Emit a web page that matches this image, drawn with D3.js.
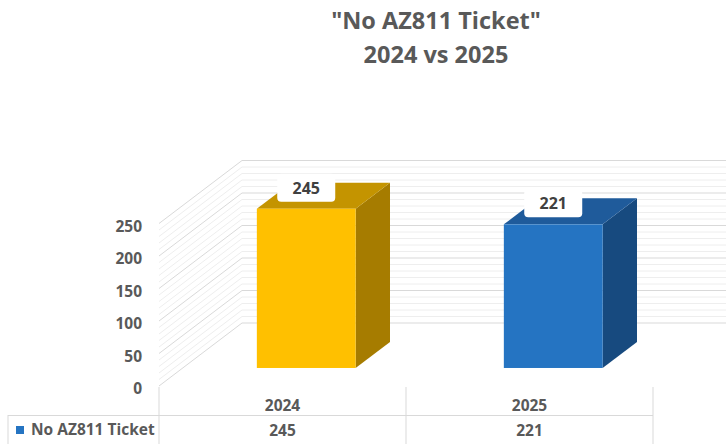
<!DOCTYPE html>
<html>
<head>
<meta charset="utf-8">
<script src="https://cdn.jsdelivr.net/npm/d3@7"></script>
<style>
  body { margin: 0; background: #fff; }
  svg text { font-family: "Open Sans", sans-serif; font-weight: bold; }
</style>
</head>
<body>
<svg width="726" height="444"></svg>
<script>
const categories = ['2024', '2025'];
const values = [245, 221];
const seriesName = 'No AZ811 Ticket';
const yTicks = [0, 50, 100, 150, 200, 250];
const minorTicks = d3.range(0, 251, 10);
const titleLines = ['"No AZ811 Ticket"', '2024 vs 2025'];

const frontColors = ['#FFC000', '#2574C2'];
const topColors = ['#C49400', '#1F5B9B'];
const sideColors = ['#A67C00', '#174A7F'];

const W = 726, H = 444;
const FLOOR_Y = 386;      // front floor line
const DEPTH_X = 83, DEPTH_Y = -63;

const svg = d3.select('svg');

const x = d3.scaleBand().domain(categories).range([159, 653]);
const y = d3.scaleLinear().domain([0, 250]).range([0, 162.5]);

// project point: horizontal pos, value height, depth fraction 0..1
function p(xv, v, d) {
  return [xv + d * DEPTH_X, FLOOR_Y - y(v) + d * DEPTH_Y];
}

// title
svg.selectAll('.title')
  .data(titleLines)
  .enter()
  .append('text')
  .attr('x', 436)
  .attr('y', (d, i) => 29 + i * 34)
  .attr('text-anchor', 'middle')
  .attr('font-size', 23.5)
  .attr('fill', '#595959')
  .text(d => d);

// walls: side wall + back wall gridlines
const walls = svg.append('g');
walls.selectAll('.side')
  .data(minorTicks)
  .enter()
  .append('line')
  .attr('x1', d => p(159, d, 0)[0])
  .attr('y1', d => p(159, d, 0)[1])
  .attr('x2', d => p(159, d, 1)[0])
  .attr('y2', d => p(159, d, 1)[1])
  .attr('stroke', d => d % 50 === 0 ? '#d9d9d9' : '#eeeeee')
  .attr('stroke-width', 1);

walls.selectAll('.back')
  .data(minorTicks)
  .enter()
  .append('line')
  .attr('x1', d => p(159, d, 1)[0])
  .attr('y1', d => p(159, d, 1)[1])
  .attr('x2', W)
  .attr('y2', d => p(159, d, 1)[1])
  .attr('stroke', d => d % 50 === 0 ? '#d9d9d9' : '#eeeeee')
  .attr('stroke-width', 1);

// y tick labels
svg.selectAll('.ytick')
  .data(yTicks)
  .enter()
  .append('text')
  .attr('x', 142)
  .attr('y', d => p(159, d, 0)[1] + 8)
  .attr('text-anchor', 'end')
  .attr('font-size', 15.5)
  .attr('fill', '#595959')
  .text(d => d);

// bars
const BAR_W = x.bandwidth() * 0.4;
const D0 = 0.286, D1 = 0.7;
const bars = svg.selectAll('.bar')
  .data(values)
  .enter()
  .append('g');

bars.each(function (v, i) {
  const g = d3.select(this);
  const x0 = x(categories[i]) + (x.bandwidth() - BAR_W) / 2;
  const x1 = x0 + BAR_W;
  const poly = pts => pts.map(q => q.join(',')).join(' ');
  // side face
  g.append('polygon')
    .attr('points', poly([p(x1, v, D0), p(x1, v, D1), p(x1, 0, D1), p(x1, 0, D0)]))
    .attr('fill', sideColors[i]);
  // top face
  g.append('polygon')
    .attr('points', poly([p(x0, v, D0), p(x1, v, D0), p(x1, v, D1), p(x0, v, D1)]))
    .attr('fill', topColors[i]);
  // front face
  const tl = p(x0, v, D0), br = p(x1, 0, D0);
  g.append('rect')
    .attr('x', tl[0])
    .attr('y', tl[1])
    .attr('width', br[0] - tl[0])
    .attr('height', br[1] - tl[1])
    .attr('fill', frontColors[i]);

  // data label
  const cx = (tl[0] + br[0]) / 2;
  g.append('rect')
    .attr('x', cx - 29)
    .attr('y', tl[1] - 35)
    .attr('width', 58)
    .attr('height', 28)
    .attr('rx', 4)
    .attr('fill', '#fff');
  g.append('text')
    .attr('x', cx)
    .attr('y', tl[1] - 15)
    .attr('text-anchor', 'middle')
    .attr('font-size', 16)
    .attr('fill', '#404040')
    .text(v);
});

// data table
const table = svg.append('g');
const gridColor = '#d9d9d9';
const colEdges = [x.range()[0]].concat(categories.map(c => x(c) + x.bandwidth()));
table.selectAll('.vline')
  .data(colEdges)
  .enter()
  .append('line')
  .attr('x1', d => d).attr('x2', d => d)
  .attr('y1', FLOOR_Y + 1).attr('y2', H)
  .attr('stroke', gridColor);
table.append('line')
  .attr('x1', 8).attr('x2', 8)
  .attr('y1', 415).attr('y2', H)
  .attr('stroke', gridColor);
table.append('line')
  .attr('x1', 8).attr('x2', x.range()[1])
  .attr('y1', 415.5).attr('y2', 415.5)
  .attr('stroke', gridColor);

table.selectAll('.cat')
  .data(categories)
  .enter()
  .append('text')
  .attr('x', d => x(d) + x.bandwidth() / 2)
  .attr('y', 411)
  .attr('text-anchor', 'middle')
  .attr('font-size', 15.5)
  .attr('fill', '#595959')
  .text(d => d);

table.selectAll('.val')
  .data(values)
  .enter()
  .append('text')
  .attr('x', (d, i) => x(categories[i]) + x.bandwidth() / 2)
  .attr('y', 436)
  .attr('text-anchor', 'middle')
  .attr('font-size', 15.5)
  .attr('fill', '#595959')
  .text(d => d);

table.append('rect')
  .attr('x', 16).attr('y', 426)
  .attr('width', 8).attr('height', 8)
  .attr('fill', frontColors[1]);
table.append('text')
  .attr('x', 31)
  .attr('y', 435)
  .attr('font-size', 15.5)
  .attr('fill', '#595959')
  .text(seriesName);
</script>
</body>
</html>
